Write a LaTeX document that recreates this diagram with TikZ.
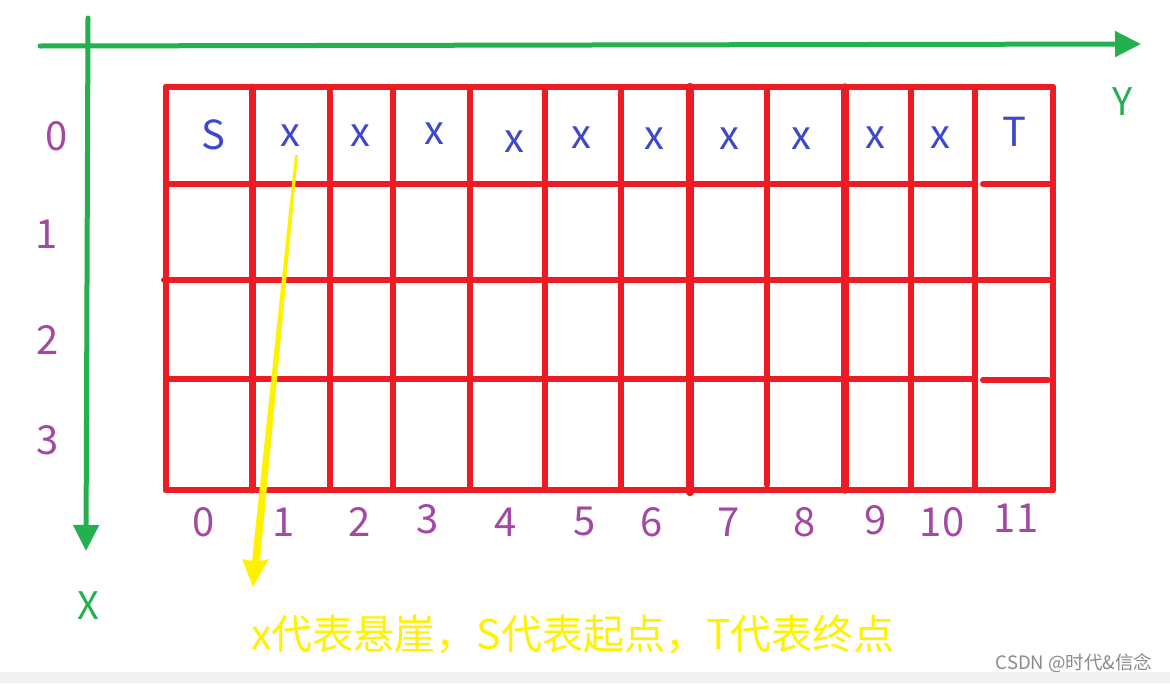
\documentclass[tikz,border=0pt]{standalone}
\usepackage{fontspec}
\setmainfont{Noto Sans CJK SC}
\usetikzlibrary{arrows.meta}
\definecolor{gridred}{HTML}{ED1C24}
\definecolor{axgreen}{HTML}{22B14C}
\definecolor{labpurple}{HTML}{A349A4}
\definecolor{cellblue}{HTML}{3F48CC}
\definecolor{noteyellow}{HTML}{FFF200}
\definecolor{wmgray}{HTML}{8A8A8A}
\definecolor{bandgray}{HTML}{F1F1F1}
\begin{document}
\begin{tikzpicture}[x=1pt,y=-1pt,
  gridline/.style={draw=gridred,line width=6pt,line cap=round},
  axis/.style={draw=axgreen,line width=5pt,line cap=round,-{Triangle[length=26pt,width=25pt]}},
  axlab/.style={text=axgreen,font=\fontsize{38}{40}\selectfont,inner sep=0pt},
  idxlab/.style={text=labpurple,font=\fontsize{40}{42}\selectfont,inner sep=0pt},
  celllab/.style={text=cellblue,font=\fontsize{40}{42}\selectfont,inner sep=0pt},
  note/.style={text=noteyellow,font=\fontsize{41}{44}\selectfont,inner sep=0pt},
  wm/.style={text=wmgray,font=\fontsize{18.5}{20}\selectfont,inner sep=0pt}]
\useasboundingbox (0,0) rectangle (1170,683);
\fill[white] (0,0) rectangle (1170,672);
\fill[bandgray] (0,672) rectangle (1170,683);

% axes
\coordinate (yStart) at (40,46);
\coordinate (yEnd) at (1141,44);
\coordinate (xStart) at (88,18);
\coordinate (xEnd) at (86,551);
\draw[axis] (yStart) -- (yEnd);
\draw[axis] (xStart) -- (xEnd);
\node[axlab] (Ylab) at (1123,102) {Y};
\node[axlab] (Xlab) at (88,606) {X};

% grid: horizontal lines
\draw[gridline] (166,87) -- (1053,87);
\draw[gridline] (166,184) -- (975,184);
\draw[gridline] (983,184) -- (1050,184);
\draw[gridline] (164,280) -- (1050,280);
\draw[gridline] (166,379) -- (975,379);
\draw[gridline] (983,380) -- (1048,380);
\draw[gridline] (166,490) -- (1053,490);
% grid: vertical lines
\draw[gridline] (166,87) -- (166,490);
\draw[gridline,line width=7pt] (252,87) -- (252,490);
\draw[gridline] (330,87) -- (330,490);
\draw[gridline] (393,87) -- (393,490);
\draw[gridline] (470,87) -- (470,490);
\draw[gridline,line width=6.5pt] (545,87) -- (545,490);
\draw[gridline] (621,87) -- (621,490);
\draw[gridline,line width=8.5pt] (690,87) -- (690,492);
\draw[gridline] (767,87) -- (767,485);
\draw[gridline,line width=7.5pt] (845,87) -- (845,490);
\draw[gridline] (911,87) -- (911,490);
\draw[gridline,line width=6.5pt] (975,87) -- (975,490);
\draw[gridline] (1053,87) -- (1053,490);

% cell labels
\node[celllab] (c0) at (213,135) {S};
\node[celllab] (c1) at (290,136) {x};
\node[celllab] (c2) at (360,136) {x};
\node[celllab] (c3) at (434,134) {x};
\node[celllab] (c4) at (514,142) {x};
\node[celllab] (c5) at (581,138) {x};
\node[celllab] (c6) at (654,139) {x};
\node[celllab] (c7) at (729,139) {x};
\node[celllab] (c8) at (801,139) {x};
\node[celllab] (c9) at (875,138) {x};
\node[celllab] (c10) at (940,138) {x};
\node[celllab] (c11) at (1014,132) {T};

% row index labels
\node[idxlab] (r0) at (57,136) {0};
\node[idxlab] (r1) at (47,234) {1};
\node[idxlab] (r2) at (48,340) {2};
\node[idxlab] (r3) at (48,440) {3};

% column index labels
\node[idxlab] (k0) at (204,522) {0};
\node[idxlab] (k1) at (284,522) {1};
\node[idxlab] (k2) at (360,522) {2};
\node[idxlab] (k3) at (428,519) {3};
\node[idxlab] (k4) at (506,522) {4};
\node[idxlab] (k5) at (585,521) {5};
\node[idxlab] (k6) at (652,522) {6};
\node[idxlab] (k7) at (729,522) {7};
\node[idxlab] (k8) at (805,522) {8};
\node[idxlab] (k9) at (876,520) {9};
\node[idxlab] (k10) at (942,522) {10};
\node[idxlab] (k11) at (1016,518) {11};

% yellow pointer (tapered)
\coordinate (pA) at (296,155);
\coordinate (pB) at (256,560);
\coordinate (pTip) at (253,587);
\fill[noteyellow] (295,155) -- (298,155) -- (260,561) -- (269,559) -- (pTip) -- (242,559) -- (252,561) -- cycle;

% note text
\node[note] (note) at (573,634) {x代表悬崖，S代表起点，T代表终点};

% watermark
\node[wm] (wm) at (1074,663) {CSDN @时代\&信念};
\end{tikzpicture}
\end{document}
